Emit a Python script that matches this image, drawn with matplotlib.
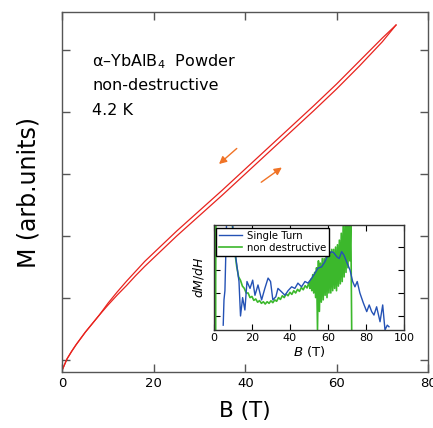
import matplotlib
matplotlib.use("Agg")
import matplotlib.pyplot as plt

# main curve: magnetization vs field
b_main = [0, 1, 2, 3, 4, 5, 6, 7, 8, 10, 12, 14, 16, 18, 20, 25, 30, 35, 40,
          45, 50, 55, 60, 65, 70, 73]
m_up = [-0.15, 0.02, 0.14, 0.25, 0.35, 0.45, 0.54, 0.63, 0.72, 0.89, 1.05,
        1.2, 1.36, 1.51, 1.65, 2.0, 2.33, 2.66, 3.0, 3.34, 3.68, 4.02, 4.37,
        4.74, 5.13, 5.40]
m_down = [-0.15, 0.02, 0.14, 0.25, 0.35, 0.45, 0.54, 0.63, 0.72, 0.92, 1.1,
          1.27, 1.43, 1.59, 1.73, 2.08, 2.41, 2.74, 3.08, 3.42, 3.76, 4.10, 4.45,
          4.82, 5.19, 5.40]

# inset: dM/dH, single turn coil
b_single = [4.9, 5.3, 5.8, 6.7, 8.0, 9.5, 11.6, 13.2, 14.0, 15.1, 16.3, 17.4,
            19.0, 20.4, 21.6, 23.2, 25.1, 26.8, 28.5, 29.8, 31.0, 32.6, 33.7,
            35.6, 37.4, 39.0, 40.9, 42.6, 44.2, 46.1, 47.9, 49.5, 51.4, 53.2,
            54.7, 56.7, 58.4, 60.0, 61.9, 63.2, 64.6, 65.9, 67.2, 68.4, 69.8,
            71.6, 73.0, 74.2, 75.4, 76.8, 78.6, 80.4, 81.7, 83.0, 84.2, 85.6,
            87.4, 88.8, 90.0, 91.2, 92.1]
d_single = [0.6, 1.7, 2.1, 5.2, 5.4, 5.2, 3.5, 2.5, 1.0, 1.8, 1.26, 2.5,
            2.2, 2.56, 1.9, 2.35, 1.7, 2.2, 2.65, 2.5, 1.7, 1.84, 2.2,
            2.05, 1.9, 2.1, 2.27, 2.2, 2.43, 2.27, 2.5, 2.43, 2.64, 2.87,
            3.08, 3.14, 3.36, 3.65, 3.8, 3.74, 3.58, 3.5, 3.8, 3.65, 3.36,
            3.0, 2.5, 2.27, 2.5, 2.0, 1.57, 1.19, 1.48, 1.19, 1.04, 1.4,
            0.75, 1.48, 0.39, 0.6, 0.53]

# inset: dM/dH, non destructive magnet
b_nondes = [0.2, 0.5, 0.8, 1.1, 1.4, 9.5, 10, 11, 12, 13, 14, 15, 16, 17, 18,
            19, 20, 21, 22, 23, 24, 25, 26, 27, 28, 29, 30, 31, 32, 33, 34, 35,
            36, 37, 38, 39, 40, 41, 42, 43, 44, 45, 46, 47, 48, 49, 50,
            50.5, 51, 51.5, 52, 52.5, 53, 53.5, 54, 54.5, 55, 55.5, 56, 56.5,
            57, 57.5, 58, 58.5, 59, 59.5, 60, 60.5, 61, 61.5, 62, 62.5, 63,
            63.5, 64, 64.5, 65, 65.5, 66, 66.5, 67, 67.5, 68, 68.5, 69, 69.5,
            70, 70.5, 71, 71.5, 72, 72.5]
d_nondes = [0.3, 5.3, 0.3, 5.3, 5.3, 5.3, 4.6, 3.8, 3.15, 2.7, 2.55, 2.3,
            2.2, 2.0, 2.0, 1.8, 1.85, 1.68, 1.74, 1.6, 1.67, 1.55, 1.62, 1.52,
            1.62, 1.55, 1.66, 1.58, 1.7, 1.64, 1.8, 1.72, 1.88, 1.8, 1.96,
            1.88, 2.03, 1.94, 2.1, 2.0, 2.16, 2.07, 2.24, 2.14, 2.32, 2.22,
            2.45, 2.2, 2.6, 2.1, 2.8, 2.0, 2.9, 1.8, 3.1, 0.4, 3.4, 1.2, 3.3,
            1.6, 3.5, 1.7, 3.5, 1.9, 3.6, 1.8, 3.7, 2.0, 3.8, 2.0, 3.9, 2.1,
            3.9, 2.2, 4.0, 2.1, 4.1, 2.3, 4.3, 2.4, 4.6, 2.5, 4.9, 2.7, 5.2,
            2.9, 5.3, 3.1, 5.3, 3.4, 5.3, 0.3]

main_xticks = [0, 20, 40, 60, 80]
inset_xticks = [0, 20, 40, 60, 80, 100]

red = "#e8231e"
orange = "#f07326"
frame = "#555555"

fig = plt.figure(figsize=(4.33, 4.28), dpi=100)
ax = fig.add_axes([0.1443, 0.1297, 0.8442, 0.8423])

ax.plot(b_main, m_up, color=red, lw=0.9)
ax.plot(b_main, m_down, color=red, lw=0.9)

ax.annotate("", xy=(33.8, 3.13), xytext=(38.6, 3.44),
            arrowprops=dict(arrowstyle="-|>", color=orange, lw=1.0, mutation_scale=11))
ax.annotate("", xy=(48.5, 3.13), xytext=(43.0, 2.84),
            arrowprops=dict(arrowstyle="-|>", color=orange, lw=1.0, mutation_scale=11))

ax.set_xlim(0, 80)
ax.set_ylim(-0.2, 5.61)
ax.set_xticks(main_xticks)
ax.set_yticks([0, 1, 2, 3, 4, 5])
ax.set_yticklabels([])
ax.tick_params(direction="in", length=6, width=1, top=True, right=True,
               labelsize=9.5, colors=frame, labelcolor="black")
for s in ax.spines.values():
    s.set_color(frame)
    s.set_linewidth(1.0)
ax.set_xlabel("B (T)", fontsize=15.5, labelpad=8)
ax.set_ylabel("M (arb.units)", fontsize=17, labelpad=12)

ax.text(0.081, 0.861, "α–YbAlB$_4$  Powder", transform=ax.transAxes,
        fontsize=11.5, va="center")
ax.text(0.081, 0.795, "non-destructive", transform=ax.transAxes,
        fontsize=11.5, va="center")
ax.text(0.081, 0.728, "4.2 K", transform=ax.transAxes,
        fontsize=11.5, va="center")

# inset
ins = fig.add_axes([0.494, 0.229, 0.439, 0.2453])
ins.plot(b_nondes, d_nondes, color="#3cb82c", lw=1.2, label="non destructive")
ins.plot(b_single, d_single, color="#2452b5", lw=1.0, label="Single Turn")
ins.set_xlim(0, 100)
ins.set_ylim(0.39, 4.96)
ins.set_xticks(inset_xticks)
ins.set_yticks([1, 2, 3, 4])
ins.set_yticklabels([])
ins.tick_params(direction="in", length=4, width=0.8, top=True, right=True,
                labelsize=8, pad=2)
for s in ins.spines.values():
    s.set_color("#333333")
    s.set_linewidth(1.0)
ins.set_xlabel(r"$B$ (T)", fontsize=9.5, labelpad=1)
ins.set_ylabel(r"$dM/dH$", fontsize=9, labelpad=4)

h, l = ins.get_legend_handles_labels()
leg = ins.legend(h[::-1], l[::-1], loc="upper left", fontsize=7.3, frameon=True,
                 fancybox=False, edgecolor="black", handlelength=2.2,
                 borderaxespad=0.25, borderpad=0.3, labelspacing=0.2,
                 handletextpad=0.5)
leg.get_frame().set_linewidth(1.0)
leg.get_frame().set_alpha(1.0)

fig.savefig("out.png", dpi=100)
